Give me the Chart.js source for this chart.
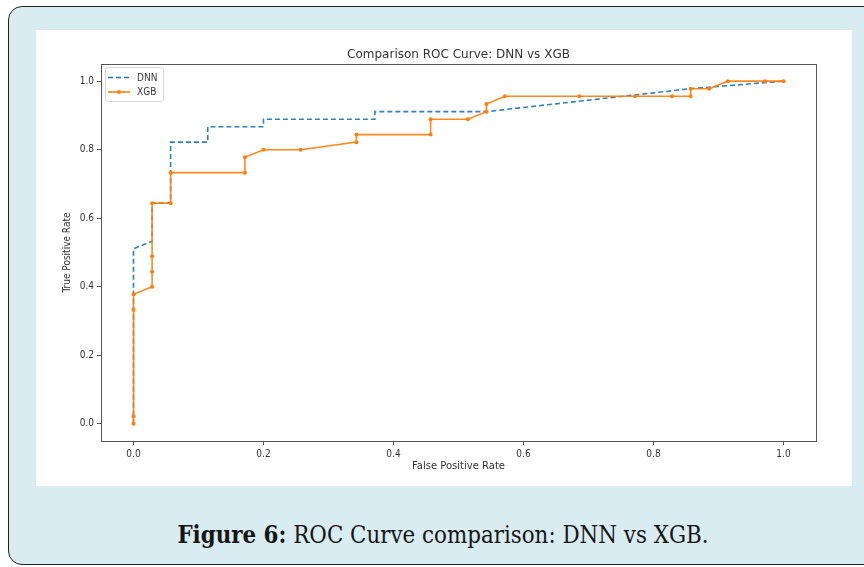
<!DOCTYPE html>
<html>
<head>
<meta charset="utf-8">
<script src="https://cdn.jsdelivr.net/npm/chart.js@4/dist/chart.umd.min.js"></script>
<style>
  html, body { margin: 0; padding: 0; background: #ffffff; width: 864px; height: 567px; overflow: hidden; }
  #clip { position: absolute; left: 0; top: 0; width: 864px; height: 567px; overflow: hidden; }
  #outer { position: absolute; left: 8px; top: 6px; width: 1000px; height: 559px; box-sizing: border-box;
           border: 1.5px solid #222; border-radius: 14px; background: #d9ecf1; }
  #panel { position: absolute; left: 36px; top: 30px; width: 816px; height: 456px; background: #ffffff; }
  #caption { position: absolute; left: 0; width: 886px; top: 523px; text-align: center; line-height: 24px;
             font-family: 'DejaVu Serif Condensed', 'DejaVu Serif', serif; font-size: 23.8px; color: #161616; white-space: nowrap; }
  #caption b { font-weight: bold; }
</style>
</head>
<body>
<div id="clip">
<div id="outer"></div>
<div id="panel"><canvas id="c" width="816" height="456"></canvas></div>
<div id="caption"><b>Figure 6:</b> ROC Curve comparison: DNN vs XGB.</div>
</div>
<script>
const chartTitle = 'Comparison ROC Curve: DNN vs XGB';
const xAxisLabel = 'False Positive Rate';
const yAxisLabel = 'True Positive Rate';
const seriesNames = ['DNN', 'XGB'];
const tickValues = [0, 0.2, 0.4, 0.6, 0.8, 1.0];

const dnnFpr = [0, 0, 0.0286, 0.0286, 0.0571, 0.0571, 0.1143, 0.1143, 0.2, 0.2, 0.3714, 0.3714, 0.5429, 0.8571, 1.0];
const dnnTpr = [0, 0.511, 0.533, 0.644, 0.644, 0.822, 0.822, 0.867, 0.867, 0.889, 0.889, 0.911, 0.911, 0.978, 1.0];

const xgbFpr = [0, 0, 0, 0, 0.0286, 0.0286, 0.0286, 0.0286, 0.0571, 0.0571, 0.1714, 0.1714, 0.2, 0.2571, 0.3429, 0.3429,
                0.4571, 0.4571, 0.5143, 0.5429, 0.5429, 0.5714, 0.6857, 0.7714, 0.8286, 0.8571, 0.8571, 0.8857, 0.9143, 0.9714, 1.0];
const xgbTpr = [0, 0.022, 0.333, 0.378, 0.4, 0.444, 0.489, 0.644, 0.644, 0.733, 0.733, 0.778, 0.8, 0.8, 0.822, 0.844,
                0.844, 0.889, 0.889, 0.911, 0.933, 0.956, 0.956, 0.956, 0.956, 0.956, 0.978, 0.978, 1.0, 1.0, 1.0];

const BLUE = '#1f77b4';
const ORANGE = '#ff7f0e';
const FONT = "'DejaVu Sans', sans-serif";
const FONT_C = "'DejaVu Sans Condensed', 'DejaVu Sans', sans-serif";
const TXT = '#333333';

const toPts = (xs, ys) => xs.map((x, i) => ({ x: x, y: ys[i] }));

const frame = {
  id: 'frame',
  afterDraw(chart) {
    const a = chart.chartArea, ctx = chart.ctx;
    ctx.save();
    ctx.fillStyle = TXT;
    ctx.font = "12px " + FONT;
    ctx.textAlign = 'center';
    ctx.textBaseline = 'middle';
    ctx.fillText(chartTitle, (a.left + a.right) / 2, 25);
    ctx.restore();
  },
  afterDatasetsDraw(chart) {
    const a = chart.chartArea, ctx = chart.ctx;
    ctx.save();
    ctx.strokeStyle = '#555';
    ctx.lineWidth = 1;
    ctx.strokeRect(Math.round(a.left) + 0.5, Math.round(a.top) + 0.5, Math.round(a.right - a.left), Math.round(a.bottom - a.top));
    const bx = 69.5, by = 37.5, bw = 58, bh = 34, r = 3;
    ctx.beginPath();
    ctx.moveTo(bx + r, by);
    ctx.arcTo(bx + bw, by, bx + bw, by + bh, r);
    ctx.arcTo(bx + bw, by + bh, bx, by + bh, r);
    ctx.arcTo(bx, by + bh, bx, by, r);
    ctx.arcTo(bx, by, bx + bw, by, r);
    ctx.closePath();
    ctx.fillStyle = 'rgba(255,255,255,0.85)';
    ctx.fill();
    ctx.strokeStyle = '#d6d6d6';
    ctx.stroke();
    const rows = [
      { name: seriesNames[0], color: BLUE, dash: [5, 3], marker: false, y: 47.5 },
      { name: seriesNames[1], color: ORANGE, dash: [], marker: true, y: 62 }
    ];
    rows.forEach(rw => {
      ctx.beginPath();
      ctx.setLineDash(rw.dash);
      ctx.strokeStyle = rw.color;
      ctx.lineWidth = 1.6;
      ctx.moveTo(72, rw.y);
      ctx.lineTo(94, rw.y);
      ctx.stroke();
      ctx.setLineDash([]);
      if (rw.marker) {
        ctx.beginPath();
        ctx.fillStyle = rw.color;
        ctx.arc(83, rw.y, 2, 0, Math.PI * 2);
        ctx.fill();
      }
      ctx.fillStyle = TXT;
      ctx.font = "10px " + FONT_C;
      ctx.textBaseline = 'middle';
      ctx.textAlign = 'left';
      ctx.fillText(rw.name, 101, rw.y + 0.5);
    });
    ctx.restore();
  }
};

new Chart(document.getElementById('c'), {
  type: 'line',
  data: {
    datasets: [
      {
        label: seriesNames[1],
        data: toPts(xgbFpr, xgbTpr),
        borderColor: 'rgba(255,127,14,0.92)',
        backgroundColor: ORANGE,
        borderWidth: 1.6,
        pointRadius: 2,
        pointBorderWidth: 0,
        pointBackgroundColor: ORANGE,
        tension: 0,
        fill: false
      },
      {
        label: seriesNames[0],
        data: toPts(dnnFpr, dnnTpr),
        borderColor: 'rgba(31,119,180,0.92)',
        backgroundColor: BLUE,
        borderWidth: 1.6,
        borderDash: [5, 3],
        pointRadius: 0,
        tension: 0,
        fill: false
      }
    ]
  },
  options: {
    responsive: false,
    animation: false,
    layout: { padding: { left: 0, right: 36, top: 34, bottom: 0 } },
    plugins: {
      legend: { display: false },
      tooltip: { enabled: false },
      title: { display: false }
    },
    scales: {
      x: {
        type: 'linear',
        min: -0.05,
        max: 1.05,
        afterBuildTicks: s => { s.ticks = tickValues.map(v => ({ value: v })); },
        afterFit: s => { s.height = 45; },
        ticks: { color: TXT, font: { family: FONT_C, size: 10 }, padding: 3, maxRotation: 0,
                 callback: v => Number(v).toFixed(1) },
        grid: { drawOnChartArea: false, drawTicks: true, tickLength: 4, color: '#555', tickColor: '#555' },
        border: { display: true, color: '#555', width: 1 },
        title: { display: true, text: xAxisLabel, color: TXT, font: { family: FONT, size: 10 }, padding: { top: 0, bottom: 14 } }
      },
      y: {
        type: 'linear',
        min: -0.05,
        max: 1.05,
        afterBuildTicks: s => { s.ticks = tickValues.map(v => ({ value: v })); },
        afterFit: s => { s.width = 65; },
        ticks: { color: TXT, font: { family: FONT_C, size: 10 }, padding: 3,
                 callback: v => Number(v).toFixed(1) },
        grid: { drawOnChartArea: false, drawTicks: true, tickLength: 4, color: '#555', tickColor: '#555' },
        border: { display: true, color: '#555', width: 1 },
        title: { display: true, text: yAxisLabel, color: TXT, font: { family: FONT_C, size: 10 }, padding: { top: 25, bottom: 0 } }
      }
    }
  },
  plugins: [frame]
});
</script>
</body>
</html>
